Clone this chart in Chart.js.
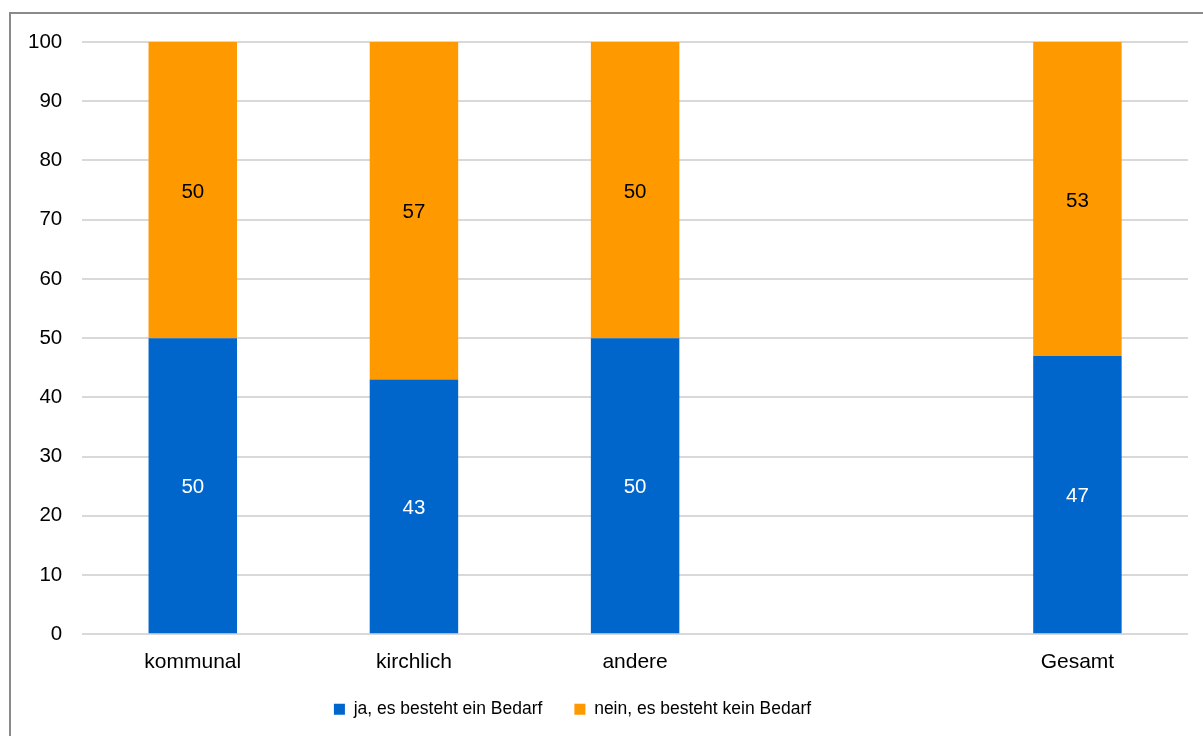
<!DOCTYPE html>
<html>
<head>
<meta charset="utf-8">
<script src="https://cdn.jsdelivr.net/npm/chart.js@4"></script>
<style>
  html, body { margin: 0; padding: 0; background: #fff; overflow: hidden; }
  #wrap { position: relative; width: 1203px; height: 736px; }
  #frame {
    position: absolute; left: 9px; top: 12px;
    width: 1300px; height: 800px;
    border: 2px solid #8a8a8a;
  }
  #myChart { position: absolute; left: 0; top: 0; }
</style>
</head>
<body>
<div id="wrap">
  <div id="frame"></div>
  <canvas id="myChart" width="1203" height="736"></canvas>
</div>
<script>
// data
const categories = ['kommunal', 'kirchlich', 'andere', '', 'Gesamt'];
const jaBedarf = [50, 43, 50, null, 47];
const neinBedarf = [50, 57, 50, null, 53];
const seriesNames = ['ja, es besteht ein Bedarf', 'nein, es besteht kein Bedarf'];
const yTicks = [0, 10, 20, 30, 40, 50, 60, 70, 80, 90, 100];

const FONT = '"Liberation Sans", Arial, sans-serif';

// value labels in the middle of each segment
const segmentLabels = {
  id: 'segmentLabels',
  afterDatasetsDraw(chart) {
    const ctx = chart.ctx;
    ctx.save();
    ctx.font = '20.5px ' + FONT;
    ctx.textAlign = 'center';
    ctx.textBaseline = 'middle';
    chart.data.datasets.forEach((ds, i) => {
      const meta = chart.getDatasetMeta(i);
      meta.data.forEach((bar, j) => {
        const v = ds.data[j];
        if (v === null || v === undefined) return;
        const { x, y, base } = bar.getProps(['x', 'y', 'base'], true);
        ctx.fillStyle = ds.labelColor;
        ctx.fillText(String(v), x, (y + base) / 2 + 2);
      });
    });
    ctx.restore();
  }
};

// the legend needs wide gaps between items but sits close under the axis,
// so nudge it after layout
const legendShift = {
  id: 'legendShift',
  afterLayout(chart) {
    const lg = chart.legend;
    lg.left -= 25.5;
    lg.right -= 25.5;
    lg.top -= 13;
    lg.bottom -= 13;
  }
};

const ctx = document.getElementById('myChart').getContext('2d');

new Chart(ctx, {
  type: 'bar',
  data: {
    labels: categories,
    datasets: [
      {
        label: seriesNames[0],
        data: jaBedarf,
        backgroundColor: '#0066cc',
        labelColor: '#ffffff',
        barPercentage: 0.4,
        categoryPercentage: 1,
      },
      {
        label: seriesNames[1],
        data: neinBedarf,
        backgroundColor: '#ff9900',
        labelColor: '#000000',
        barPercentage: 0.4,
        categoryPercentage: 1,
      },
    ],
  },
  options: {
    responsive: false,
    animation: false,
    layout: { padding: { left: 8, top: 42, right: 15, bottom: -5 } },
    scales: {
      x: {
        stacked: true,
        grid: { display: false },
        border: { display: false },
        ticks: { color: '#000', font: { family: FONT, size: 21 }, padding: 7 },
      },
      y: {
        stacked: true,
        min: 0,
        max: 100,
        afterBuildTicks(axis) {
          axis.ticks = yTicks.map(v => ({ value: v }));
        },
        grid: { color: '#d9d9d9', lineWidth: 2, drawTicks: false },
        border: { display: false },
        ticks: { color: '#000', font: { family: FONT, size: 20.5 }, padding: 20 },
      },
    },
    plugins: {
      tooltip: { enabled: false },
      legend: {
        position: 'bottom',
        labels: {
          boxWidth: 11,
          boxHeight: 11,
          padding: 32,
          color: '#000',
          font: { family: FONT, size: 17.5 },
        },
      },
    },
  },
  plugins: [segmentLabels, legendShift],
});
</script>
</body>
</html>
